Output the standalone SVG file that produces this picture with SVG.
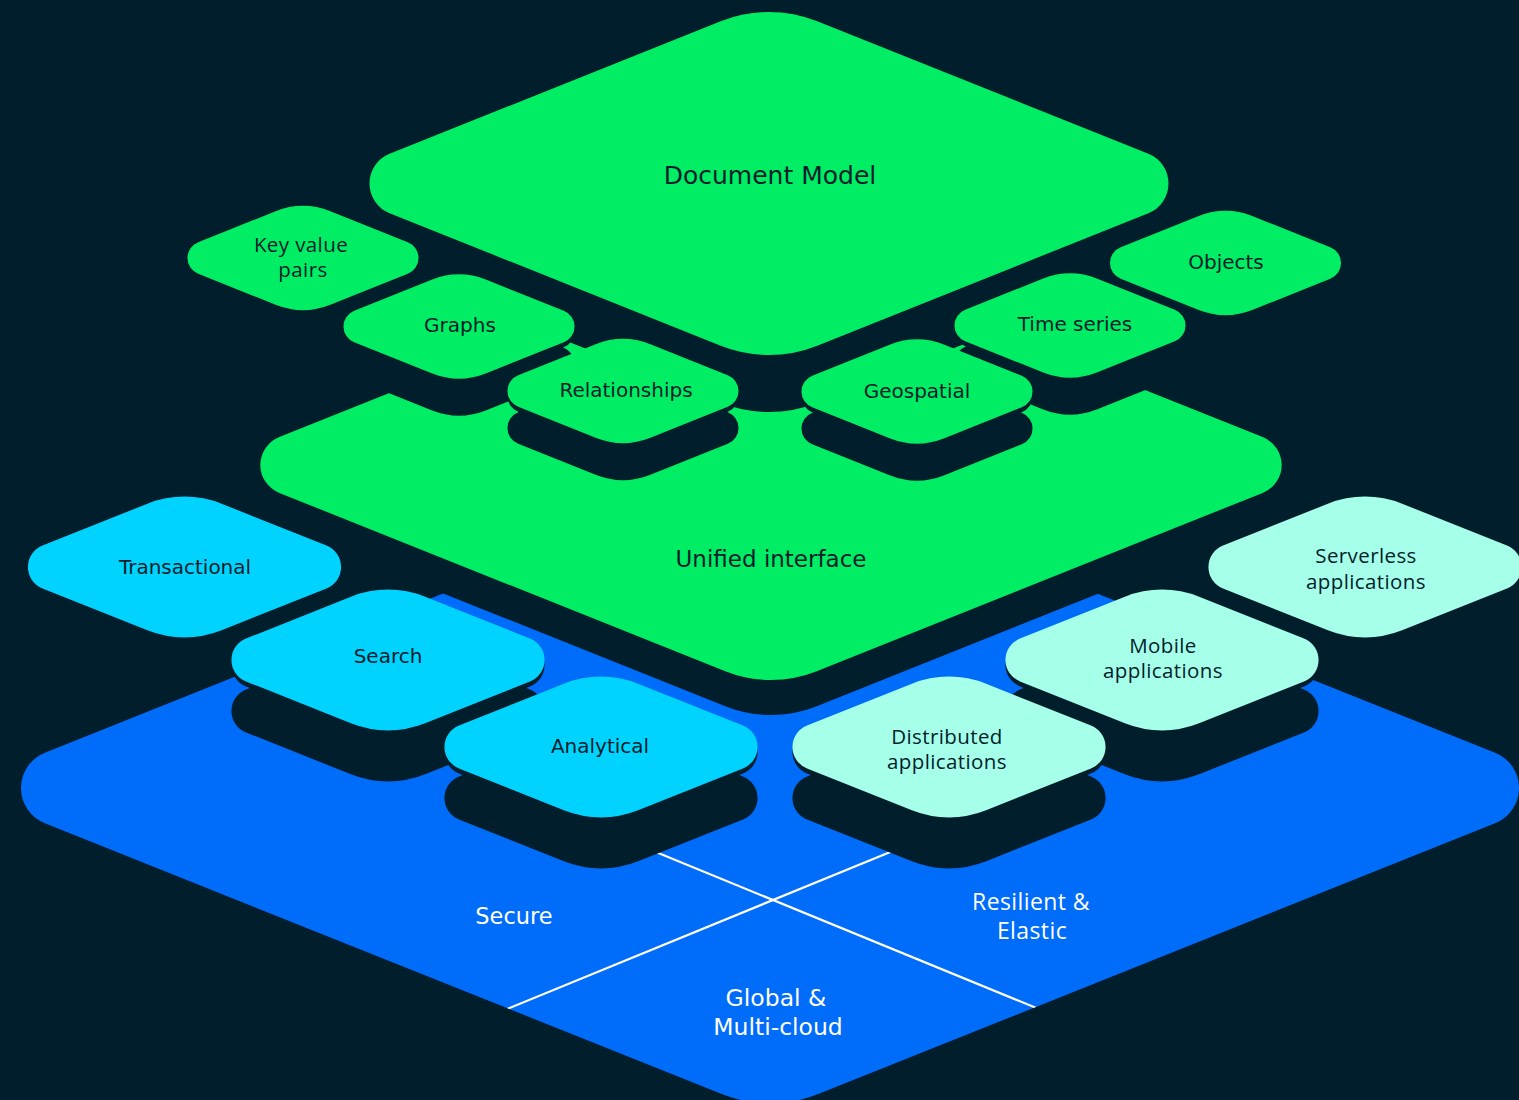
<svg xmlns="http://www.w3.org/2000/svg" width="1519" height="1100" viewBox="0 0 1519 1100">
<style>
.bg{fill:#001E2B}
.g{fill:#00ED64}
.b{fill:#006CFA}
.c{fill:#00D3FF}
.m{fill:#A6FFE9}
.sh{fill:#001E2B}
text{text-anchor:middle}
.dv{font-family:"DejaVu Sans","Liberation Sans",sans-serif;fill:#001E2B;font-size:20px}
.os{font-family:"Open Sans","DejaVu Sans",sans-serif;fill:#001E2B;font-size:20.5px;letter-spacing:0.4px}
.w{fill:#FFFFFF}
.ln{stroke:#FFFFFF;stroke-width:2.2;fill:none}
</style>
<defs>
<path id="tc" d="M-142,-21.4L-37.1,-63.3A100,100 0 0 1 37.1,-63.3L142,-21.4A23,23 0 0 1 142,21.4L37.1,63.3A100,100 0 0 1 -37.1,63.3L-142,21.4A23,23 0 0 1 -142,-21.4Z"/>
<path id="td" d="M-379.4,-29.7L-48.3,-162.2A130,130 0 0 1 48.3,-162.2L379.4,-29.7A32,32 0 0 1 379.4,29.7L48.3,162.2A130,130 0 0 1 -48.3,162.2L-379.4,29.7A32,32 0 0 1 -379.4,-29.7Z"/>
<path id="tu" d="M-491.7,-27.9L-45.7,-206.2A123,123 0 0 1 45.7,-206.2L491.7,-27.9A30,30 0 0 1 491.7,27.9L45.7,206.2A123,123 0 0 1 -45.7,206.2L-491.7,27.9A30,30 0 0 1 -491.7,-27.9Z"/>
<path id="tb" d="M-725.1,-35.3L-48.3,-306A130,130 0 0 1 48.3,-306L725.1,-35.3A38,38 0 0 1 725.1,35.3L48.3,306A130,130 0 0 1 -48.3,306L-725.1,35.3A38,38 0 0 1 -725.1,-35.3Z"/>
<clipPath id="bclip"><use href="#tb" transform="translate(770,788)"/></clipPath>
</defs>
<rect class="bg" x="0" y="0" width="1519" height="1100"/>

<g id="base">
<use href="#tb" class="b" transform="translate(770,788)"/>
<text class="dv w" x="514" y="924" style="font-size:22.5px">Secure</text>
<text class="dv w" x="776" y="1006" style="font-size:23.5px">Global &amp;</text>
<text class="dv w" x="778" y="1035" style="font-size:23.5px">Multi-cloud</text>
<text class="os w" x="1031" y="910" style="font-size:23px">Resilient &amp;</text>
<text class="os w" x="1032" y="939" style="font-size:23px">Elastic</text>
</g>

<g id="connectors" clip-path="url(#bclip)">
<line class="ln" x1="640" y1="845.5" x2="1060" y2="1017.7"/>
<line class="ln" x1="905" y1="845.9" x2="493" y2="1014.8"/>
</g>

<g id="unified">
<use href="#tu" class="sh" transform="translate(771,500)"/>
<use href="#tu" class="g" transform="translate(771,465)"/>
<text class="dv" x="771" y="567" style="font-size:23px">Unified interface</text>
</g>

<g id="transactional">
<use href="#tc" class="sh" transform="translate(184.5,618)"/>
<use href="#tc" class="sh" transform="translate(184.5,572)"/>
<use href="#tc" class="c" transform="translate(184.5,567)"/>
<text class="dv" x="185" y="573.5">Transactional</text>
</g>
<g id="serverless">
<use href="#tc" class="sh" transform="translate(1365,618)"/>
<use href="#tc" class="sh" transform="translate(1365,572)"/>
<use href="#tc" class="m" transform="translate(1365,567)"/>
<text class="os" x="1366" y="563">Serverless</text>
<text class="os" x="1366" y="589">applications</text>
</g>
<g id="search">
<use href="#tc" class="sh" transform="translate(388,711)"/>
<use href="#tc" class="sh" transform="translate(388,665)"/>
<use href="#tc" class="c" transform="translate(388,660)"/>
<text class="dv" x="388" y="663">Search</text>
</g>
<g id="mobile">
<use href="#tc" class="sh" transform="translate(1162,711)"/>
<use href="#tc" class="sh" transform="translate(1162,665)"/>
<use href="#tc" class="m" transform="translate(1162,660)"/>
<text class="os" x="1163" y="653">Mobile</text>
<text class="os" x="1163" y="678">applications</text>
</g>
<g id="analytical">
<use href="#tc" class="sh" transform="translate(601,798)"/>
<use href="#tc" class="sh" transform="translate(601,752)"/>
<use href="#tc" class="c" transform="translate(601,747)"/>
<text class="dv" x="600" y="753">Analytical</text>
</g>
<g id="distributed">
<use href="#tc" class="sh" transform="translate(949,798)"/>
<use href="#tc" class="sh" transform="translate(949,752)"/>
<use href="#tc" class="m" transform="translate(949,747)"/>
<text class="os" x="947" y="744">Distributed</text>
<text class="os" x="947" y="769">applications</text>
</g>

<g id="document-model">
<use href="#td" class="sh" transform="translate(769,240.5)"/>
<use href="#td" class="g" transform="translate(769,183.5)"/>
<text class="dv" x="770" y="184" style="font-size:25px">Document Model</text>
</g>

<g id="key-value-pairs">
<use href="#tc" class="sh" transform="translate(303,295) scale(0.738)"/>
<use href="#tc" class="sh" transform="translate(303,263) scale(0.738)"/>
<use href="#tc" class="g" transform="translate(303,258) scale(0.738)"/>
<text class="os" x="301" y="252">Key value</text>
<text class="os" x="303" y="277">pairs</text>
</g>
<g id="objects">
<use href="#tc" class="sh" transform="translate(1225.5,300) scale(0.738)"/>
<use href="#tc" class="sh" transform="translate(1225.5,268) scale(0.738)"/>
<use href="#tc" class="g" transform="translate(1225.5,263) scale(0.738)"/>
<text class="dv" x="1226" y="269">Objects</text>
</g>
<g id="graphs">
<use href="#tc" class="sh" transform="translate(459,363.5) scale(0.738)"/>
<use href="#tc" class="sh" transform="translate(459,331.5) scale(0.738)"/>
<use href="#tc" class="g" transform="translate(459,326.5) scale(0.738)"/>
<text class="dv" x="460" y="332">Graphs</text>
</g>
<g id="time-series">
<use href="#tc" class="sh" transform="translate(1070,362.5) scale(0.738)"/>
<use href="#tc" class="sh" transform="translate(1070,330.5) scale(0.738)"/>
<use href="#tc" class="g" transform="translate(1070,325.5) scale(0.738)"/>
<text class="dv" x="1075" y="331">Time series</text>
</g>
<g id="relationships">
<use href="#tc" class="sh" transform="translate(623,428) scale(0.738)"/>
<use href="#tc" class="sh" transform="translate(623,396) scale(0.738)"/>
<use href="#tc" class="g" transform="translate(623,391) scale(0.738)"/>
<text class="dv" x="626" y="397">Relationships</text>
</g>
<g id="geospatial">
<use href="#tc" class="sh" transform="translate(917,428.5) scale(0.738)"/>
<use href="#tc" class="sh" transform="translate(917,396.5) scale(0.738)"/>
<use href="#tc" class="g" transform="translate(917,391.5) scale(0.738)"/>
<text class="dv" x="917" y="398">Geospatial</text>
</g>
</svg>
